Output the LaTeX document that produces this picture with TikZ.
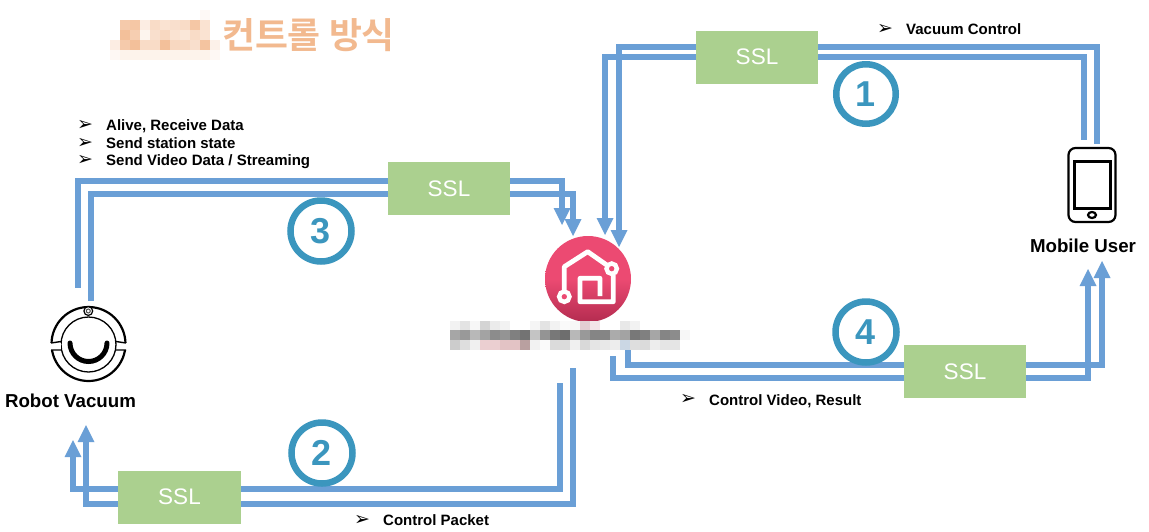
\documentclass[tikz,border=0pt]{standalone}
\usepackage{fontspec}
\setmainfont{Liberation Sans}
\newfontfamily\krfont{Noto Sans CJK KR}[BoldFont={* Bold}]
\usetikzlibrary{arrows.meta,shadings}
\definecolor{linkblue}{HTML}{6A9FD6}
\definecolor{sslgreen}{HTML}{ABD08F}
\definecolor{ringteal}{HTML}{3B96BE}
\definecolor{titleorange}{HTML}{F2B98F}
\definecolor{appred}{HTML}{EC4A72}
\definecolor{appdark}{HTML}{B42C50}
\definecolor{pa}{HTML}{EBCFD1}\definecolor{pb}{HTML}{E3C3C5}\definecolor{pc}{HTML}{B9A0A0}
\definecolor{pd}{HTML}{CBD7E4}\definecolor{pe}{HTML}{E3CDD2}\definecolor{pf}{HTML}{F3E5E8}
\tikzset{
  x=1pt,y=-1pt,
  link/.style={draw=linkblue,line width=6pt,line join=miter},
  linkhead/.style={link,-{Triangle[length=17pt,width=17pt,line width=0pt,sep=0pt]}},
  sslbox/.style={fill=sslgreen,draw=none,minimum width=122pt,minimum height=53pt,inner sep=0pt,text=white,font=\fontsize{22.5}{22}\selectfont},
  ring/.style={circle,draw=ringteal,line width=6.5pt,minimum size=61pt,inner sep=0pt,text=ringteal,font=\bfseries\fontsize{36}{36}\selectfont},
  note/.style={anchor=base west,inner sep=0pt,font=\bfseries\fontsize{15}{15}\selectfont},
  bullet/.style={anchor=center,inner sep=0pt,font=\fontsize{19}{19}\selectfont},
  caption/.style={inner sep=0pt,font=\bfseries\fontsize{18.7}{19}\selectfont},
}
\newcommand{\barrow}{\fontspec{DejaVu Sans}\symbol{"27A2}}
\newcommand{\ssltext}{\raisebox{-1pt}{SSL}}
\begin{document}
\begin{tikzpicture}
\useasboundingbox (0,0) rectangle (1149,531);
\fill[white] (0,0) rectangle (1149,531);

% blurred title part
\foreach \x/\y/\o in {200/10/8,
 120/20/75,130/20/80,140/20/25,150/20/50,160/20/40,170/20/45,180/20/50,190/20/80,200/20/40,
 120/30/90,130/30/70,140/30/15,150/30/45,160/30/55,170/30/40,180/30/35,190/30/50,200/30/40,
 110/40/25,120/40/75,130/40/90,140/40/50,150/40/50,160/40/90,170/40/55,180/40/55,190/40/45,200/40/85,210/40/20,
 110/50/10,120/50/18,130/50/18,140/50/18,150/50/18,160/50/18,170/50/18,180/50/18,190/50/18,200/50/18,210/50/10}
  \fill[titleorange!\o!white] (\x,\y) rectangle +(10,10);
\node[inner sep=0pt,text=titleorange,font=\krfont\bfseries\fontsize{35.8}{36}\selectfont] (title) at (308.5,35) {컨트롤 방식};

% hub icon
\shade[top color=appred,bottom color=appdark,middle color=appred,shading=axis] (588,279) circle (43);
\node[circle,minimum size=86pt,inner sep=0pt] (hub) at (588,279) {};
\draw[white,line width=4.8pt,line join=round] (564.3,297) -- (564.3,266.7) -- (587.7,251.7) -- (606.7,265)
   (613.3,275) -- (613.3,301.7) -- (580,301.7) -- (580,278.3) -- (600,278.3) -- (600,296);
\draw[white,line width=4.4pt,fill=appred] (564.3,296.7) circle (5.2);
\draw[white,line width=4.4pt,fill=appred] (611.7,268.7) circle (5.2);

% blurred caption
\foreach \x/\y/\g in {450/321/95,460/321/89,470/321/97,480/321/83,490/321/92,500/321/95,530/321/96,540/321/89,550/321/95,560/321/98,570/321/97,620/321/91,630/321/95,
 450/330/65,460/330/60,470/330/72,480/330/64,490/330/55,500/330/58,510/330/50,520/330/45,530/330/77,540/330/58,550/330/47,560/330/43,570/330/72,580/330/60,590/330/52,600/330/52,610/330/67,620/330/64,630/330/47,640/330/50,650/330/65,660/330/52,670/330/55,680/330/97,
 450/340/80,460/340/87,470/340/94,530/340/95,540/340/98,550/340/86,560/340/86,570/340/94,580/340/85,590/340/90,600/340/91,610/340/93,630/340/87,640/340/86,650/340/93,660/340/90,670/340/90}
  \fill[black!\fpeval{100-\g}] (\x,\y) rectangle +(10,10);
\fill[pa] (480,340) rectangle +(20,10);\fill[pb] (500,340) rectangle +(20,10);\fill[pc] (520,340) rectangle +(10,10);\fill[pd] (620,340) rectangle +(10,10);
\fill[pe] (580,321) rectangle +(10,9);\fill[pf] (590,321) rectangle +(10,9);

% robot vacuum
\node[circle,minimum size=76pt,inner sep=0pt] (robot) at (88.5,344) {};
\draw[black,line width=2.2pt] (88.5,344) circle (37);
\draw[black,line width=1.3pt] (88.5,344.5) circle (27.5);
\fill[white] (49,343) rectangle (60.5,349.5);
\fill[white] (116.5,343) rectangle (128,349.5);
\draw[black,line width=1.4pt] (51,343) -- (61,341.5) (51,350) -- (61,350) (116,341.5) -- (126,343) (116,350) -- (126,350);
\draw[black,line width=5pt,line cap=round] (70,343) arc[start angle=180,end angle=0,radius=18.5];
\draw[black,line width=1.2pt,fill=white] (88.3,311) circle (4.4);
\draw[black!70,line width=1pt] (88.3,311) circle (2);
\node[caption] (robotlabel) at (70.5,400.5) {Robot Vacuum};

% phone
\node[minimum width=48pt,minimum height=75pt,inner sep=0pt] (phone) at (1092,185) {};
\draw[black,line width=2.2pt,rounded corners=7pt] (1068.5,148) rectangle (1115.5,222);
\draw[black,line width=2.2pt] (1074.5,161.5) rectangle (1110.5,208.5);
\draw[black,line width=2.2pt] (1092,215) ellipse (4 and 3);
\node[caption] (mobilelabel) at (1083,245.5) {Mobile User};

% SSL boxes
\node[sslbox] (ssla) at (757,57) {\ssltext};
\node[sslbox,minimum width=123pt] (sslb) at (179.5,497) {\ssltext};
\node[sslbox] (sslc) at (449,188.5) {\ssltext};
\node[sslbox] (ssld) at (965,371.5) {\ssltext};

% free ends
\coordinate (a1) at (619,247);\coordinate (a2) at (605,235);
\coordinate (a3) at (1097,144);\coordinate (a4) at (1084,140);
\coordinate (b1) at (73,440);\coordinate (b2) at (86,425);
\coordinate (b3) at (560,383);\coordinate (b4) at (573,368);
\coordinate (c1) at (78,288);\coordinate (c2) at (91,301);
\coordinate (c3) at (562,225);\coordinate (c4) at (573,236);
\coordinate (d1) at (628,350);\coordinate (d2) at (613,356);
\coordinate (d3) at (1102,261);\coordinate (d4) at (1088,269);

% links 1
\draw[linkhead] (696,47) -| (a1);
\draw[linkhead] (696,57) -| (a2);
\draw[link] (818,47) -| (a3);
\draw[link] (818,57) -| (a4);
% links 2
\draw[linkhead] (118,489) -| (b1);
\draw[linkhead] (118,504) -| (b2);
\draw[link] (241,489) -| (b3);
\draw[link] (241,504) -| (b4);
% links 3
\draw[link] (388,181) -| (c1);
\draw[link] (388,194) -| (c2);
\draw[linkhead] (510,181) -| (c3);
\draw[linkhead] (510,194) -| (c4);
% links 4
\draw[link] (904,365) -| (d1);
\draw[link] (904,378) -| (d2);
\draw[linkhead] (1026,365) -| (d3);
\draw[linkhead] (1026,378) -| (d4);

% rings
\node[ring,minimum size=59.5pt] (r1) at (866,94) {1};
\node[ring] (r2) at (322,453) {2};
\node[ring] (r3) at (321,231) {3};
\node[ring] (r4) at (866,332) {4};

% notes
\node[bullet] (n1b) at (885,29.5) {\barrow};
\node[note] (n1) at (906,34) {Vacuum Control};
\node[bullet] (n2b) at (362,520.5) {\barrow};
\node[note] (n2) at (383,525) {Control Packet};
\node[bullet] (n3b) at (85,125.5) {\barrow};
\node[note] (n3) at (106,130) {Alive, Receive Data};
\node[bullet] (n4b) at (85,143) {\barrow};
\node[note] (n4) at (106,148) {Send station state};
\node[bullet] (n5b) at (85,160.5) {\barrow};
\node[note] (n5) at (106,165) {Send Video Data / Streaming};
\node[bullet] (n6b) at (688,399.5) {\barrow};
\node[note] (n6) at (709,405) {Control Video, Result};
\end{tikzpicture}
\end{document}
